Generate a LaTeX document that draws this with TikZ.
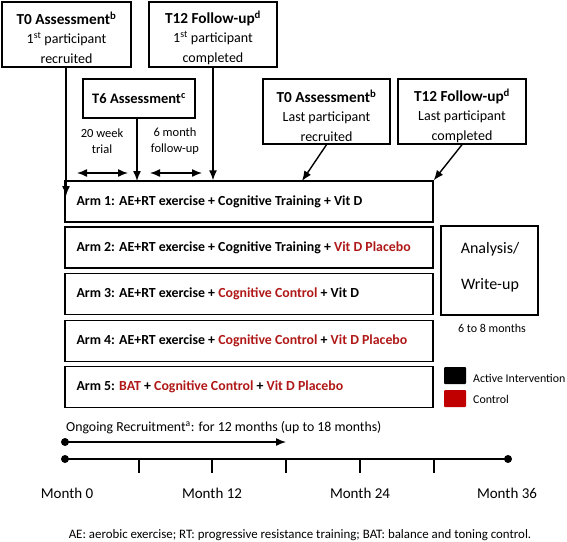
\documentclass[tikz,border=0pt]{standalone}
\usepackage{fontspec}
\setmainfont{Carlito}
\usetikzlibrary{arrows.meta,calc}
\definecolor{ctrl}{HTML}{B01818}
\definecolor{legred}{HTML}{C00000}
\tikzset{
  box/.style={draw, line width=1.4pt, rectangle, inner sep=0pt},
  hdrbox/.style={box, minimum width=#1, minimum height=65pt},
  hdrtxt/.style={inner sep=0pt, align=center, font=\fontsize{14}{19.5}\selectfont},
  arm/.style={box, minimum width=368pt, minimum height=41pt},
  armtxt/.style={anchor=west, inner sep=0pt, font=\fontsize{13.85}{16}\selectfont\bfseries},
  arr/.style={line width=1.4pt, -{Latex[length=10pt,width=8pt]}},
  darr/.style={line width=1.4pt, {Latex[length=10pt,width=8pt]}-{Latex[length=10pt,width=8pt]}},
  lbl/.style={inner sep=0pt, align=center, font=\fontsize{12.5}{16}\selectfont},
  dot/.style={circle, fill, inner sep=0pt, minimum size=8pt},
}
\newcommand{\hdtitle}[1]{{\fontsize{15.3}{19.5}\selectfont\bfseries #1}}
\begin{document}
\begin{tikzpicture}[x=1pt,y=-1pt]
\useasboundingbox (0,0) rectangle (567,541);
% top boxes
\node[hdrbox=129pt] (t0) at (66.5,34.5) {};
\node[hdrtxt] (t0x) at ($(t0.center)+(0,3)$) {\hdtitle{T0 Assessment\textsuperscript{b}}\\1\textsuperscript{st} participant\\recruited};
\node[hdrbox=128pt] (t12) at (213,34.5) {};
\node[hdrtxt] (t12x) at ($(t12.center)+(0,3)$) {\hdtitle{T12 Follow-up\textsuperscript{d}}\\1\textsuperscript{st} participant\\completed};
\node[box, minimum width=112pt, minimum height=39pt, font=\fontsize{14.5}{17}\selectfont\bfseries] (t6) at (139,98.5) {T6 Assessment\textsuperscript{c}};
\node[hdrbox=127pt] (t0l) at (326.5,111.5) {};
\node[hdrtxt] (t0lx) at ($(t0l.center)+(0,4)$) {\hdtitle{T0 Assessment\textsuperscript{b}}\\Last participant\\recruited};
\node[hdrbox=128pt] (t12l) at (462,111.5) {};
\node[hdrtxt] (t12lx) at ($(t12l.center)+(0,4)$) {\hdtitle{T12 Follow-up\textsuperscript{d}}\\Last participant\\completed};
% arms
\node[arm] (a1) at (249,201.5) {};
\node[arm] (a2) at (249,247.5) {};
\node[arm] (a3) at (249,294) {};
\node[arm] (a4) at (249,341) {};
\node[arm] (a5) at (249,387) {};
\node[armtxt] (a1t) at ($(a1.west)+(12,0)$) {Arm 1: AE+RT exercise + Cognitive Training + Vit D};
\node[armtxt] (a2t) at ($(a2.west)+(12,0)$) {Arm 2: AE+RT exercise + Cognitive Training + \textcolor{ctrl}{Vit D Placebo}};
\node[armtxt] (a3t) at ($(a3.west)+(12,0)$) {Arm 3: AE+RT exercise + \textcolor{ctrl}{Cognitive Control} + Vit D};
\node[armtxt] (a4t) at ($(a4.west)+(12,0)$) {Arm 4: AE+RT exercise + \textcolor{ctrl}{Cognitive Control} + \textcolor{ctrl}{Vit D Placebo}};
\node[armtxt] (a5t) at ($(a5.west)+(12,0)$) {Arm 5: \textcolor{ctrl}{BAT} + \textcolor{ctrl}{Cognitive Control} + \textcolor{ctrl}{Vit D Placebo}};
% analysis
\node[box, minimum width=97pt, minimum height=89pt] (an) at (489.5,270.5) {};
\node[lbl, font=\fontsize{16}{18}\selectfont] (ant1) at (490,249) {Analysis/};
\node[lbl, font=\fontsize{16}{18}\selectfont] (ant2) at (490,285) {Write-up};
\node[lbl, font=\fontsize{12}{14}\selectfont] (an68) at (492,328) {6 to 8 months};
% legend
\node[fill=black, rounded corners=1pt, minimum width=22pt, minimum height=17pt, inner sep=0pt] (lb) at (455,375.5) {};
\node[fill=legred, rounded corners=1pt, minimum width=22pt, minimum height=17pt, inner sep=0pt] (lr) at (455,398.5) {};
\node[lbl, anchor=west, font=\fontsize{11.9}{14}\selectfont] (lbt) at (473,378) {Active Intervention};
\node[lbl, anchor=west, font=\fontsize{11.9}{14}\selectfont] (lrt) at (473,399) {Control};
% arrows from top
\coordinate (t0tip) at (66,196);
\draw[arr] (t0.south -| t0tip) -- (t0tip);
\draw[arr] (t6.south -| 137,0) -- (137,181);
\draw[arr] (t12.south) -- (t12.south |- a1.north);
\coordinate (lrtip) at (302,181);
\draw[arr] (t0l.south) -- (lrtip);
\draw[arr] (t12l.south) -- (a1.north east);
% duration labels
\node[lbl] (w20) at (102,141) {20 week\\trial};
\node[lbl] (m6) at (175,141) {6 month\\follow-up};
\coordinate (d1a) at (77,173); \coordinate (d1b) at (128,173);
\coordinate (d2a) at (150,173); \coordinate (d2b) at (202,173);
\draw[darr] (d1a) -- (d1b);
\draw[darr] (d2a) -- (d2b);
% recruitment
\node[lbl, anchor=west, font=\fontsize{13.8}{15}\selectfont] (rec) at (66,428) {Ongoing Recruitment\textsuperscript{a}: for 12 months (up to 18 months)};
\node[dot] (r0) at (65,442) {};
\coordinate (r1) at (286,442);
\draw[arr] (r0.center) -- (r1);
% timeline
\node[dot] (m0) at (65,459) {};
\node[dot] (m36) at (508,459) {};
\draw[line width=1.6pt] (m0.center) -- (m36.center);
\foreach \x/\n in {139/k1,212/k2,286/k3,360/k4,434/k5}{
  \coordinate (\n) at (\x,459);
  \draw[line width=1.6pt] (\n) -- ++(0,14);
}
\node[lbl, font=\fontsize{15}{17}\selectfont] (l0) at (67,493) {Month 0};
\node[lbl, font=\fontsize{15}{17}\selectfont] (l12) at (212,493) {Month 12};
\node[lbl, font=\fontsize{15}{17}\selectfont] (l24) at (360,493) {Month 24};
\node[lbl, font=\fontsize{15}{17}\selectfont] (l36) at (507,493) {Month 36};
\node[lbl, font=\fontsize{12.9}{14}\selectfont] (foot) at (300,535) {AE: aerobic exercise; RT: progressive resistance training; BAT: balance and toning control.};
\end{tikzpicture}
\end{document}
